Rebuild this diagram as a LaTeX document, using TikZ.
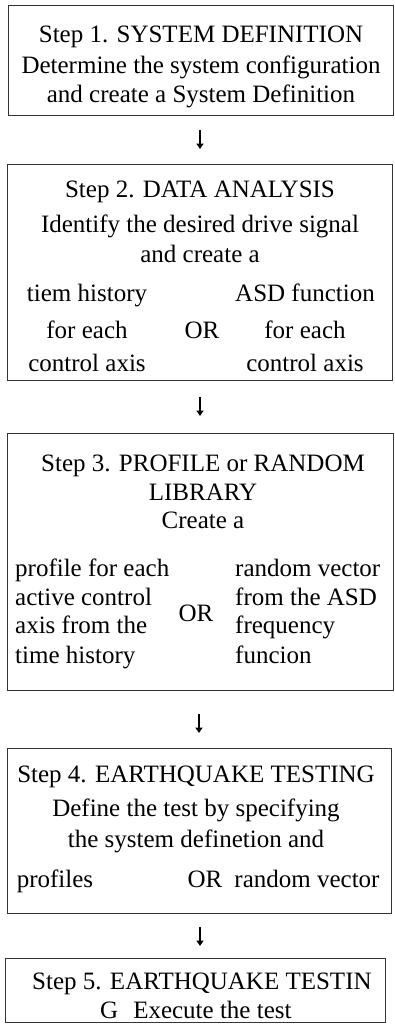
\documentclass[tikz,border=0pt]{standalone}
\usepackage{fontspec}
\setmainfont{Liberation Serif}
\usetikzlibrary{arrows.meta}
\tikzset{
  box/.style={draw=black!80, line width=0.9pt, rectangle, inner sep=0pt, anchor=north west},
  txt/.style={anchor=base, inner sep=0pt, font=\fontsize{25}{30}\selectfont},
  ltxt/.style={txt, anchor=base west},
  flow/.style={draw=black, line width=1.8pt, -{Triangle[length=5.5pt,width=7pt]}}
}
\begin{document}
\begin{tikzpicture}[x=1pt,y=-1pt]
\useasboundingbox (0,0) rectangle (395,1033);

% ---- boxes ----
\node[box, minimum width=385pt, minimum height=110pt] (b1) at (8,5) {};
\node[box, minimum width=385pt, minimum height=216pt] (b2) at (7,164) {};
\node[box, minimum width=386pt, minimum height=257pt] (b3) at (7,433) {};
\node[box, minimum width=384pt, minimum height=165pt] (b4) at (7,748) {};
\node[box, minimum width=380pt, minimum height=64pt] (b5) at (5,958) {};

% ---- step 1 ----
\node[txt] (s1a) at (201,43) {Step 1. SYSTEM DEFINITION};
\node[txt] (s1b) at (201,74) {Determine the system configuration};
\node[txt] (s1c) at (201,102) {and create a System Definition};

% ---- step 2 ----
\node[txt] (s2a) at (200,197) {Step 2. DATA ANALYSIS};
\node[txt] (s2b) at (200,232) {Identify the desired drive signal};
\node[txt] (s2c) at (200,262) {and create a};
\node[txt] (s2l1) at (87,301) {tiem history};
\node[txt] (s2l2) at (87,338) {for each};
\node[txt] (s2l3) at (87,371) {control axis};
\node[txt] (s2or) at (202,338) {OR};
\node[txt] (s2r1) at (305,301) {ASD function};
\node[txt] (s2r2) at (305,338) {for each};
\node[txt] (s2r3) at (305,371) {control axis};

% ---- step 3 ----
\node[txt] (s3a) at (203,471) {Step 3. PROFILE or RANDOM};
\node[txt] (s3b) at (203,500) {LIBRARY};
\node[txt] (s3c) at (203,528) {Create a};
\node[ltxt] (s3l1) at (15,576) {profile for each};
\node[ltxt] (s3l2) at (15,605) {active control};
\node[ltxt] (s3l3) at (15,633) {axis from the};
\node[ltxt] (s3l4) at (15,663) {time history};
\node[txt] (s3or) at (196,621) {OR};
\node[ltxt] (s3r1) at (235,576) {random vector};
\node[ltxt] (s3r2) at (235,605) {from the ASD};
\node[ltxt] (s3r3) at (235,633) {frequency};
\node[ltxt] (s3r4) at (235,663) {funcion};

% ---- step 4 ----
\node[txt] (s4a) at (196,782) {Step 4. EARTHQUAKE TESTING};
\node[txt] (s4b) at (196,816) {Define the test by specifying};
\node[txt] (s4c) at (196,847) {the system definetion and};
\node[txt] (s4l) at (55,887) {profiles};
\node[txt] (s4or) at (205,887) {OR};
\node[txt] (s4r) at (307,887) {random vector};

% ---- step 5 ----
\node[ltxt] (s5a) at (32,989) {Step 5. EARTHQUAKE TESTIN};
\node[ltxt] (s5b) at (100,1018) {G\hspace{0.6em}Execute the test};

% ---- flow arrows ----
\coordinate (a1s) at (200,130); \coordinate (a1e) at (200,149);
\coordinate (a2s) at (200,397); \coordinate (a2e) at (200,416);
\coordinate (a3s) at (199,714); \coordinate (a3e) at (199,733);
\coordinate (a4s) at (200,927); \coordinate (a4e) at (200,946);
\draw[flow] (a1s) -- (a1e);
\draw[flow] (a2s) -- (a2e);
\draw[flow] (a3s) -- (a3e);
\draw[flow] (a4s) -- (a4e);
\end{tikzpicture}
\end{document}
